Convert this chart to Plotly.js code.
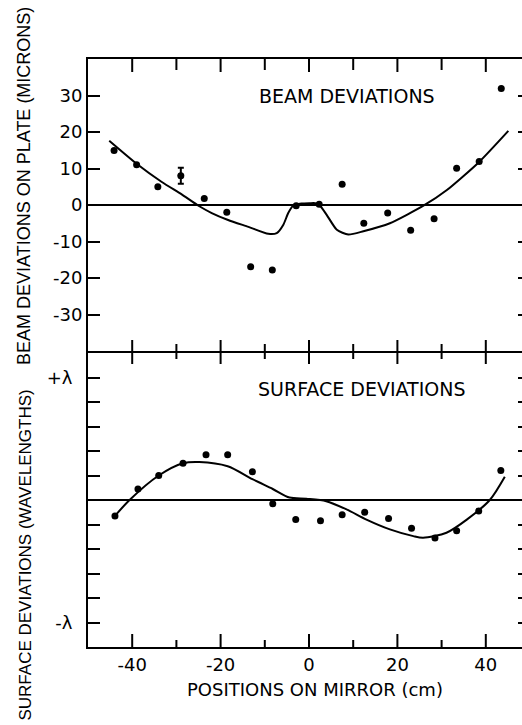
<!DOCTYPE html>
<html>
<head>
<meta charset="utf-8">
<script src="https://cdn.plot.ly/plotly-3.0.1.min.js"></script>
<style>
html, body { margin: 0; padding: 0; overflow: hidden; background: #fff; }
#chart { width: 531px; height: 725px; }
</style>
</head>
<body>
<div id="chart"></div>
<script>
// ---- Beam deviations (top panel), microns ----
const beamX = [-44.1, -39.0, -34.2, -29.0, -23.7, -18.6, -13.2, -8.3, -2.9, 2.3, 7.5, 12.4, 17.8, 23.0, 28.3, 33.4, 38.5, 43.5];
const beamY = [14.9, 11.0, 5.0, 8.0, 1.8, -2.0, -16.9, -17.8, -0.2, 0.2, 5.7, -5.0, -2.2, -6.9, -3.8, 10.1, 11.9, 31.9];
const beamErrX = [-29.0];
const beamErrY = [8.0];
const beamErrVal = [2.2];
const beamFitX = [-45.2, -39.0, -33.3, -28.8, -25.0, -22.0, -18.3, -13.7, -9.2, -7.3, -5.8, -4.7, -3.6, -1.7, 0.2, 1.4, 2.5, 4.0, 6.3, 8.9, 12.3, 18.3, 25.9, 31.2, 38.5, 45.1];
const beamFitY = [17.6, 11.3, 6.3, 2.9, -0.2, -2.2, -4.1, -6.0, -7.9, -7.7, -5.4, -2.2, -0.2, 0.4, 0.5, 0.5, -0.2, -2.7, -6.8, -8.1, -7.2, -5.0, -0.2, 4.1, 11.8, 20.3];
const beamTickVals = [-30, -20, -10, 0, 10, 20, 30];
const beamTickText = ['-30', '-20', '-10', '0', '10', '20', '30'];

// ---- Surface deviations (bottom panel), wavelengths ----
const surfX = [-43.9, -38.7, -34.0, -28.5, -23.3, -18.4, -12.8, -8.2, -3.0, 2.6, 7.5, 12.6, 18.0, 23.2, 28.5, 33.4, 38.4, 43.4];
const surfY = [-0.13, 0.09, 0.20, 0.30, 0.37, 0.37, 0.23, -0.03, -0.16, -0.17, -0.12, -0.10, -0.15, -0.23, -0.31, -0.25, -0.09, 0.24];
const surfFitX = [-43.9, -40.6, -34.0, -28.5, -24.8, -18.4, -12.8, -8.2, -4.4, -0.6, 3.9, 8.5, 13.0, 18.3, 23.6, 25.8, 31.1, 35.7, 40.9, 44.3];
const surfFitY = [-0.13, 0.0, 0.20, 0.30, 0.31, 0.275, 0.17, 0.09, 0.02, 0.01, -0.01, -0.077, -0.16, -0.24, -0.295, -0.308, -0.267, -0.16, 0.0, 0.19];
const surfTickVals = [-1, -0.8, -0.6, -0.4, -0.2, 0, 0.2, 0.4, 0.6, 0.8, 1];
const surfTickText = ['-λ', '', '', '', '', '', '', '', '', '', '+λ'];

// ---- Shared x axis ----
const xTickVals = [-40, -20, 0, 20, 40];
const xTickText = ['-40', '-20', '0', '20', '40'];
const xMinorVals = [-30, -10, 10, 30];

const black = '#000';
const FONT = 'DejaVu Sans';
const TITLE_FONT = 'Liberation Sans';

const W = 531, H = 725;
const M = { l: 88, r: 1, t: 59, b: 78 };
const plotH = H - M.t - M.b;
const BOTTOM_DOMAIN = [0, 0.5];
const TOP_DOMAIN = [0.5034, 1];
const px = function (n) { return n / plotH; };

// Tick marks of the x axes (drawn as shapes on the x scale)
function tickShapes() {
  const shapes = [];
  const mid = (BOTTOM_DOMAIN[1] + TOP_DOMAIN[0]) / 2;
  function add(v, y0, y1) {
    shapes.push({ type: 'line', xref: 'x', yref: 'paper', x0: v, x1: v, y0: y0, y1: y1,
                  line: { color: black, width: 2 }, layer: 'above' });
  }
  xTickVals.forEach(function (v) {
    add(v, 0, px(13));                 // bottom axis, pointing up
    add(v, mid - px(12), mid + px(12)); // divider, crossing
    add(v, 1, 1 - px(13));             // top edge, pointing down
  });
  xMinorVals.forEach(function (v) {
    add(v, 0, px(7));
    add(v, mid - px(7), mid + px(8));
    add(v, 1, 1 - px(11));
  });
  return shapes;
}

const traces = [
  { x: beamFitX, y: beamFitY, xaxis: 'x2', yaxis: 'y2', mode: 'lines',
    line: { color: black, width: 2, shape: 'spline', smoothing: 0.6 } },
  { x: beamX, y: beamY, xaxis: 'x2', yaxis: 'y2', mode: 'markers',
    marker: { color: black, size: 7 } },
  { x: beamErrX, y: beamErrY, xaxis: 'x2', yaxis: 'y2', mode: 'markers',
    marker: { color: black, size: 6 },
    error_y: { type: 'data', array: beamErrVal, visible: true, color: black, thickness: 2, width: 3 } },
  { x: surfFitX, y: surfFitY, xaxis: 'x', yaxis: 'y', mode: 'lines',
    line: { color: black, width: 2, shape: 'spline', smoothing: 0.8 } },
  { x: surfX, y: surfY, xaxis: 'x', yaxis: 'y', mode: 'markers',
    marker: { color: black, size: 7 } }
];

const layout = {
  width: W, height: H,
  margin: M,
  showlegend: false,
  font: { family: FONT, color: black, size: 18 },
  xaxis: {
    domain: [0, 1], anchor: 'y', range: [-50, 50],
    tickmode: 'array', tickvals: xTickVals, ticktext: xTickText, ticks: '',
    showline: true, linewidth: 2, linecolor: black, mirror: true,
    showgrid: false, zeroline: false
  },
  xaxis2: {
    domain: [0, 1], anchor: 'y2', range: [-50, 50],
    tickmode: 'array', tickvals: xTickVals, ticktext: xTickText, ticks: '',
    showticklabels: false,
    showline: true, linewidth: 2, linecolor: black, mirror: true,
    showgrid: false, zeroline: false
  },
  yaxis: {
    domain: BOTTOM_DOMAIN, anchor: 'x', range: [-1.2, 1.2],
    tickmode: 'array', tickvals: surfTickVals, ticktext: surfTickText,
    ticks: 'inside', ticklen: 12, tickwidth: 2, tickcolor: black, ticklabelstandoff: 10,
    showline: true, linewidth: 2, linecolor: black, mirror: 'ticks',
    showgrid: false, zeroline: true, zerolinewidth: 2, zerolinecolor: black
  },
  yaxis2: {
    domain: TOP_DOMAIN, anchor: 'x2', range: [-40, 40],
    tickmode: 'array', tickvals: beamTickVals, ticktext: beamTickText,
    ticks: 'inside', ticklen: 12, tickwidth: 2, tickcolor: black,
    showline: true, linewidth: 2, linecolor: black, mirror: 'ticks',
    showgrid: false, zeroline: true, zerolinewidth: 2, zerolinecolor: black
  },
  shapes: tickShapes(),
  annotations: [
    { text: 'BEAM DEVIATIONS ON PLATE (MICRONS)', textangle: -90, showarrow: false,
      xref: 'paper', yref: 'paper', x: -0.1448, y: 0.784, xanchor: 'center', yanchor: 'middle',
      font: { family: TITLE_FONT, size: 18, color: black } },
    { text: 'SURFACE DEVIATIONS (WAVELENGTHS)', textangle: -90, showarrow: false,
      xref: 'paper', yref: 'paper', x: -0.1425, y: 0.1556, xanchor: 'center', yanchor: 'middle',
      font: { family: TITLE_FONT, size: 17, color: black } },
    { text: 'BEAM DEVIATIONS', showarrow: false, xref: 'x2', yref: 'y2', x: 8.7, y: 30,
      xanchor: 'center', yanchor: 'middle', font: { family: FONT, size: 19, color: black } },
    { text: 'SURFACE DEVIATIONS', showarrow: false, xref: 'x', yref: 'y', x: 12.1, y: 0.906,
      xanchor: 'center', yanchor: 'middle', font: { family: FONT, size: 19, color: black } },
    { text: 'POSITIONS ON MIRROR (cm)', showarrow: false, xref: 'x', yref: 'paper', x: 1.4, y: -0.0731,
      xanchor: 'center', yanchor: 'middle', font: { family: FONT, size: 18, color: black } }
  ]
};

Plotly.newPlot('chart', traces, layout, { staticPlot: true });
</script>
</body>
</html>
